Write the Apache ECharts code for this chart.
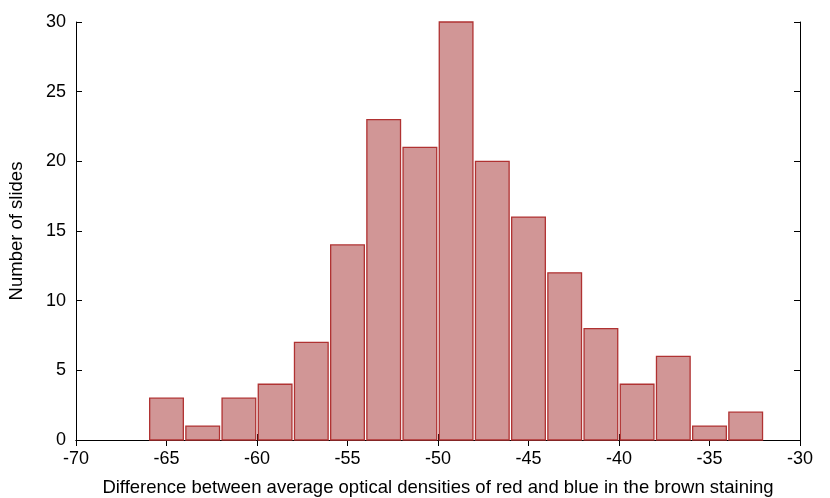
<!DOCTYPE html>
<html><head><meta charset="utf-8">
<script src="https://cdn.jsdelivr.net/npm/echarts@6/dist/echarts.min.js"></script>
<style>html,body{margin:0;padding:0;background:#fff}#c{width:830px;height:498px}</style>
</head><body><div id="c"></div>
<script>
var binCenters = [-65,-63,-61,-59,-57,-55,-53,-51,-49,-47,-45,-43,-41,-39,-37,-35,-33];
var counts     = [3,1,3,4,7,14,23,21,30,20,16,12,8,4,6,1,2];
var barHalfWidth = 0.93;
var xTitle = 'Difference between average optical densities of red and blue in the brown staining';
var yTitle = 'Number of slides';

var data = binCenters.map(function(x,i){return [x, counts[i]];});
var chart = echarts.init(document.getElementById('c'));
var font = 'Liberation Sans, Arial, Helvetica, sans-serif';
var axisCommon = {
  axisLine:{show:true,lineStyle:{color:'#000',width:1}},
  axisTick:{show:true,inside:true,length:6,lineStyle:{color:'#000',width:1}},
  splitLine:{show:false}
};
chart.setOption({
  animation:false,
  grid:{left:76,right:30,top:22,bottom:58,containLabel:false,outerBoundsMode:'none'},
  xAxis:[
    Object.assign({type:'value',min:-70,max:-30,interval:5,position:'bottom',
      name:xTitle,nameLocation:'middle',nameGap:38,
      nameTextStyle:{fontFamily:font,fontSize:18.5,color:'#000'},
      axisLabel:{fontFamily:font,fontSize:18,color:'#000',margin:10}},axisCommon),
    Object.assign({type:'value',min:-70,max:-30,interval:5,position:'top',
      axisLabel:{show:false}},axisCommon)
  ],
  yAxis:[
    Object.assign({type:'value',min:0,max:30,interval:5,position:'left',
      name:yTitle,nameLocation:'middle',nameGap:50,
      nameTextStyle:{fontFamily:font,fontSize:18.5,color:'#000'},
      axisLabel:{fontFamily:font,fontSize:18,color:'#000',margin:10}},axisCommon),
    Object.assign({type:'value',min:0,max:30,interval:5,position:'right',
      axisLabel:{show:false}},axisCommon)
  ],
  series:[{
    type:'custom',
    xAxisIndex:0,yAxisIndex:0,
    data:data,
    z:5,
    renderItem:function(params,api){
      var x=api.value(0), y=api.value(1);
      var p1=api.coord([x-barHalfWidth,y]);
      var p2=api.coord([x+barHalfWidth,0]);
      return {type:'rect',
        shape:{x:p1[0],y:p1[1],width:p2[0]-p1[0],height:p2[1]-p1[1]},
        style:{fill:'#d19696',stroke:'#b03232',lineWidth:1.3}};
    }
  }]
});
</script></body></html>
